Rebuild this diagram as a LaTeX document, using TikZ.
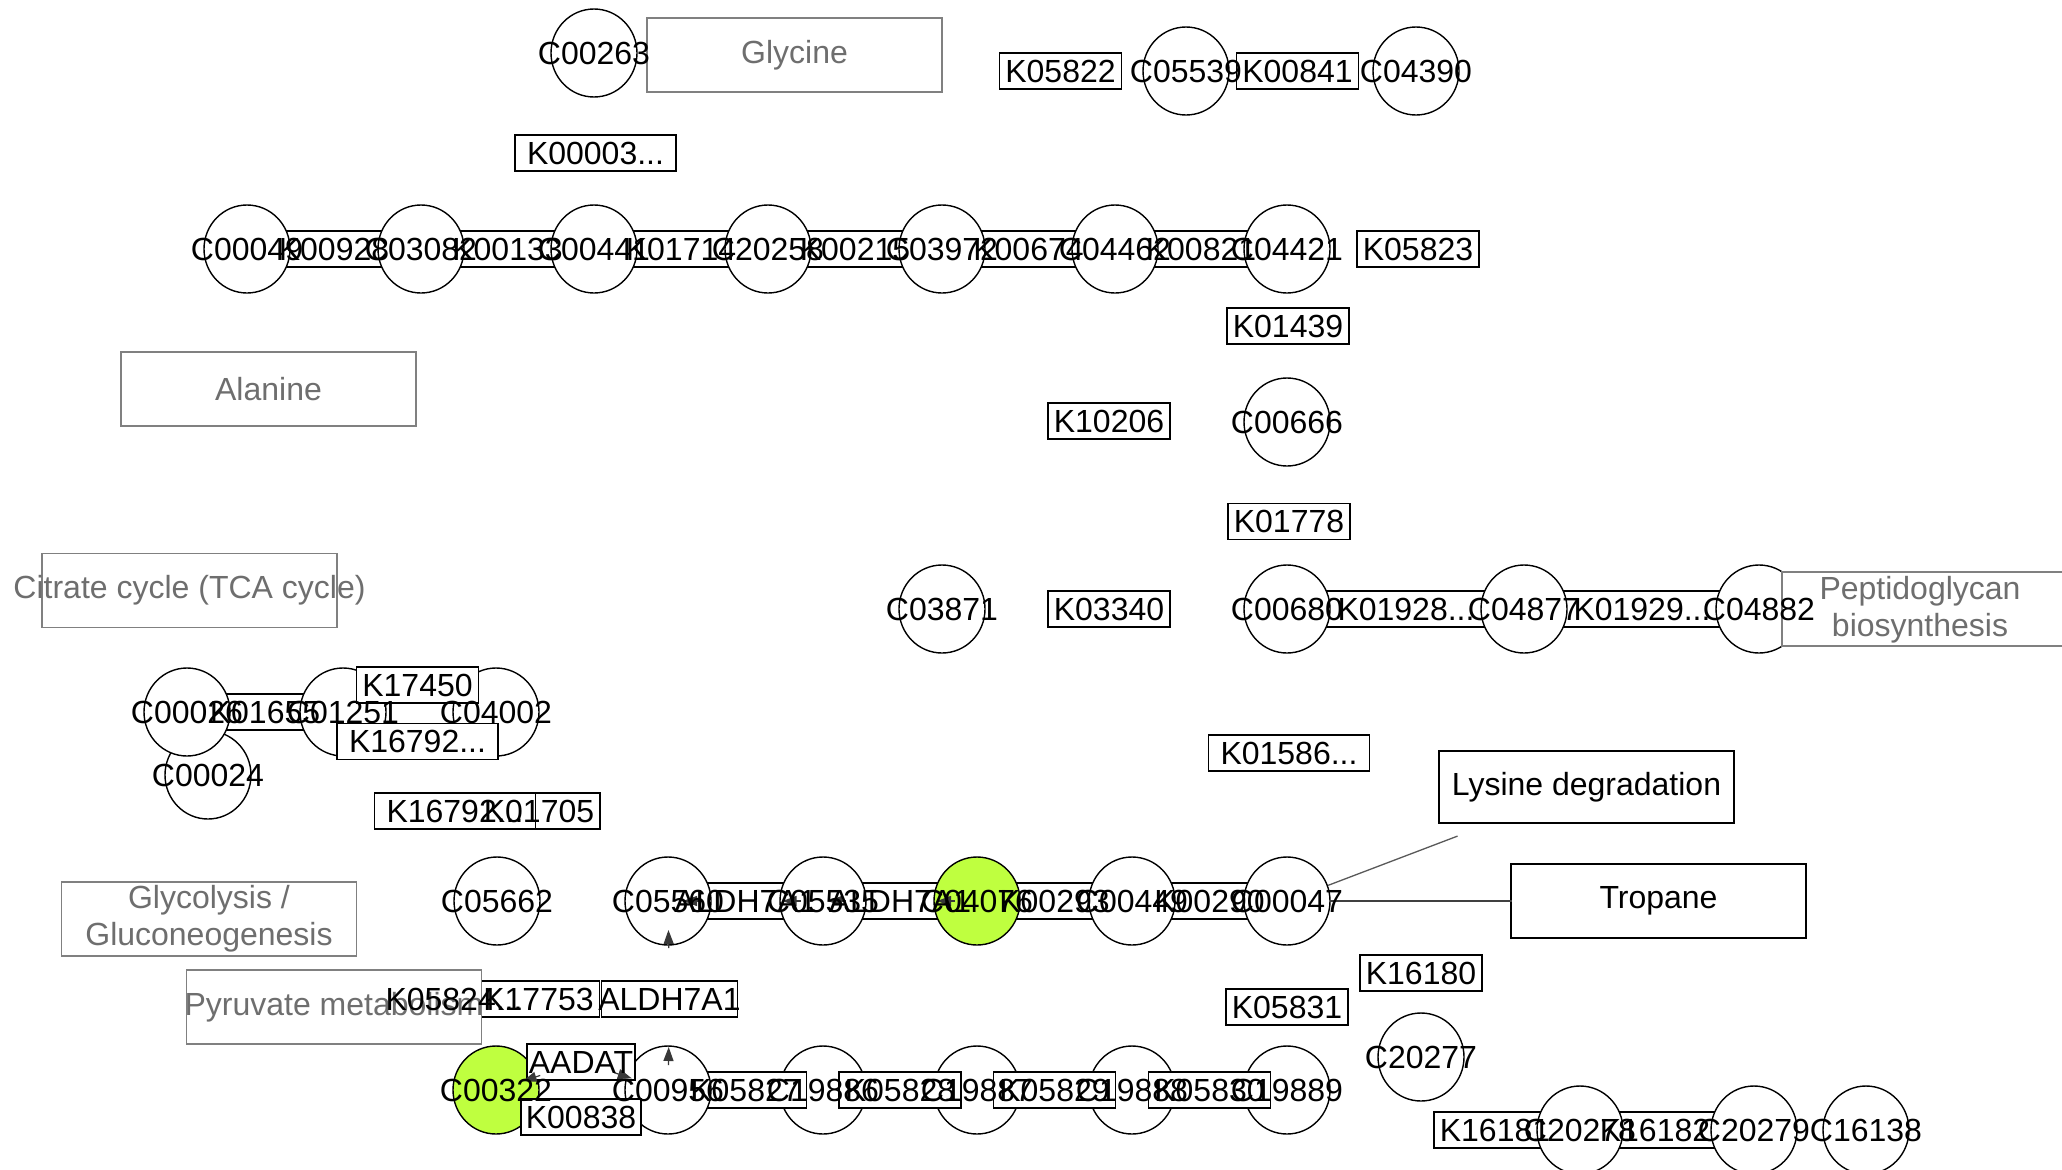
\documentclass[tikz,border=0pt]{standalone}
\usepackage{fontspec}
\setmainfont{Liberation Sans}
\usetikzlibrary{shapes.geometric,arrows.meta}
\definecolor{hl}{HTML}{BFFF3F}
\definecolor{mapgray}{HTML}{808080}
\definecolor{maptext}{HTML}{6E6E6E}
\definecolor{arrowgray}{HTML}{383838}
\newcommand{\lbfont}{\fontsize{32}{37}\selectfont}
\newcommand{\tdots}{...}
\begin{document}
\begin{tikzpicture}[x=1pt,y=-1pt,
 cpd/.style={ellipse, draw=black, line width=1.4pt, fill=white, minimum width=86pt, minimum height=88pt, inner sep=0pt},
 hlcpd/.style={cpd, fill=hl},
 ko/.style={rectangle, draw=black, line width=1.4pt, fill=white, minimum width=122pt, minimum height=36pt, inner sep=0pt},
 kowide/.style={ko, minimum width=161pt},
 mapbox/.style={rectangle, draw=mapgray, line width=1.4pt, fill=white, minimum width=295pt, minimum height=74pt, inner sep=0pt},
 pathbox/.style={mapbox, draw=black},
 lbl/.style={inner sep=0pt, font=\lbfont, text=black},
 maplbl/.style={lbl, text=maptext, align=center},
 link/.style={draw=black!75, line width=1.3pt},
 tipedge/.style={draw=arrowgray, line width=1.2pt, -{Triangle[length=14pt,width=10pt]}},
]
\fill[white] (0,0) rectangle (2062,1170);
\useasboundingbox (0,0) rectangle (2062,1170);
\clip (0,0) rectangle (2062,1170);

% ---- boxes lying under other shapes
\node[kowide] (K05824) at (454,999) {};
\node[ko] (K17753) at (538.5,999) {};
\node[ko, minimum width=136pt] (ALDHc) at (669.5,999) {};
\foreach \n/\x in {K00928/334, K00133/507.5, K01714/681, K00215/855, K00674/1028.5, K00821/1201}
  \node[ko] (\n) at (\x,249) {};
\foreach \n/\x in {ALDHa/745.5, ALDHb/900, K00293/1054.5, K00290/1209.5}
  \node[ko] (\n) at (\x,901) {};
\node[ko] (K01655) at (265,712) {};
\node[kowide] (K01928) at (1406,609) {};
\node[kowide] (K01929) at (1642,609) {};
\node[ko] (AAmid) at (583,1090) {};
\node[ko] (K16181) at (1495,1130) {};
\node[ko] (K16182) at (1655,1130) {};
\node[ko] (K01705) at (539,811) {};
\node[kowide] (K16792b) at (455,811) {};

% ---- compounds
\node[cpd] (C00024) at (208,775) {};
\node[cpd] (C00026) at (187,712) {};
\foreach \n/\x/\y in {C00263/594/53, C05539/1186/71, C04390/1416/71,
  C00049/247/249, C03082/421/249, C00441/594/249, C20258/768/249, C03972/942/249, C04462/1115/249, C04421/1287/249,
  C00666/1287/422, C03871/942/609, C00680/1287/609, C04877/1524/609, C04882/1759/609,
  C01251/343/712, C04002/496/712,
  C05662/497/901, C05560/668/901, C05535/823/901, C00449/1132/901, C00047/1287/901,
  C19886/823/1090, C19887/977/1090, C19888/1132/1090, C19889/1287/1090,
  C20277/1421/1057, C20278/1580/1130, C20279/1754/1130, C16138/1866/1130}
  \node[cpd] (\n) at (\x,\y) {};
\node[hlcpd] (C04076) at (977,901) {};

% ---- boxes over compounds
\foreach \n/\x in {K05827/745.5, K05828/900, K05829/1054.5, K05830/1209.5}
  \node[ko] (\n) at (\x,1090) {};
\node[cpd] (C00956) at (668,1090) {};
\node[hlcpd] (C00322) at (496,1090) {};
\node[ko, minimum width=108pt] (AADAT) at (581,1062) {};
\node[ko, minimum width=120pt] (K00838) at (581,1117) {};
\node[ko] (K17450) at (417.5,685) {};
\node[kowide] (K16792a) at (417.5,741.5) {};
\node[ko] (K05822) at (1060.5,71) {};
\node[ko] (K00841) at (1297.5,71) {};
\node[kowide] (K00003) at (595.5,153) {};
\node[ko] (K05823) at (1418,249) {};
\node[ko] (K01439) at (1288,326) {};
\node[ko] (K10206) at (1109,421) {};
\node[ko] (K01778) at (1289,521.5) {};
\node[ko] (K03340) at (1109,609) {};
\node[kowide] (K01586) at (1289,753) {};
\node[ko] (K16180) at (1421,973) {};
\node[ko] (K05831) at (1287,1007) {};

% ---- pathway map boxes
\node[mapbox] (Glycine) at (794.5,55) {};
\node[mapbox] (Alanine) at (268.5,389) {};
\node[mapbox] (Citrate) at (189.5,590.5) {};
\node[mapbox] (Glycolysis) at (209,919) {};
\node[mapbox] (Pyruvate) at (334,1007) {};
\node[mapbox] (Peptido) at (1929.5,609) {};
\node[pathbox, minimum height=72pt] (LysDeg) at (1586.5,787) {};
\node[pathbox] (Tropane) at (1658.5,901) {};

% ---- links to maps
\draw[link, draw=black!65, shorten <=44pt, shorten >=138pt] (C00047.center) -- (LysDeg.center);
\draw[link, shorten <=43pt, shorten >=147pt] (C00047.center) -- (Tropane.center);

% ---- arrow heads
\draw[tipedge, shorten >=15pt, shorten <=44.5pt] (ALDHa.center) -- (C05560.center);
\draw[tipedge, shorten >=37pt, shorten <=22.5pt] (C05535.center) -- (ALDHa.center);
\draw[tipedge, shorten >=5pt, shorten <=54pt] (ALDHb.center) -- (C05535.center);
\draw[tipedge, shorten >=37pt, shorten <=22pt] (C04076.center) -- (ALDHb.center);
\draw[tipedge, shorten >=29pt, shorten <=51pt] (ALDHc.center) -- (C05560.center);
\draw[tipedge, shorten >=48pt, shorten <=25pt] (C00956.center) -- (ALDHc.center);
\draw[tipedge, shorten >=38pt, shorten <=35pt] (AADAT.center) -- (C00956.center);
\draw[tipedge, shorten >=28pt, shorten <=43pt] (AADAT.center) -- (C00322.center);

% ---- map labels
\node[maplbl] (tGlycine) at (Glycine) {Glycine};
\node[maplbl] (tAlanine) at (Alanine) {Alanine};
\node[maplbl] (tCitrate) at (Citrate) {Citrate cycle (TCA cycle)};
\node[maplbl] (tGlycolysis) at (Glycolysis) {Glycolysis /\\Gluconeogenesis};
\node[maplbl] (tPyruvate) at (Pyruvate) {Pyruvate metabolism};
\node[maplbl] (tPeptido) at (1920,610) {Peptidoglycan\\biosynthesis};
\node[lbl] (tLysDeg) at (LysDeg) {Lysine degradation};
\node[lbl] (tTropane) at (Tropane) {Tropane};

% ---- compound labels
\foreach \n in {C00263, C05539, C04390, C00049, C03082, C00441, C20258, C03972, C04462, C04421,
  C00666, C03871, C00680, C04877, C04882, C00024, C00026, C01251, C04002,
  C05662, C05560, C05535, C04076, C00449, C00047, C00322, C00956,
  C19886, C19887, C19888, C19889, C20277, C20278, C20279, C16138}
  \node[lbl] (t\n) at (\n) {\n};

% ---- ortholog labels
\foreach \n/\l in {K00928/K00928, K00133/K00133, K01714/K01714, K00215/K00215, K00674/K00674, K00821/K00821,
  ALDHa/ALDH7A1, ALDHb/ALDH7A1, K00293/K00293, K00290/K00290, K01655/K01655,
  K01928/K01928\tdots, K01929/K01929\tdots, K16181/K16181, K16182/K16182, K01705/K01705, K16792b/K16792\tdots,
  K05824/K05824\tdots, K17753/K17753, ALDHc/ALDH7A1,
  K05827/K05827, K05828/K05828, K05829/K05829, K05830/K05830,
  AADAT/AADAT, K00838/K00838, K17450/K17450, K16792a/K16792\tdots,
  K05822/K05822, K00841/K00841, K00003/K00003\tdots, K05823/K05823, K01439/K01439,
  K10206/K10206, K01778/K01778, K03340/K03340, K01586/K01586\tdots, K16180/K16180, K05831/K05831}
  \node[lbl] (t\n) at (\n) {\l};
\end{tikzpicture}
\end{document}
